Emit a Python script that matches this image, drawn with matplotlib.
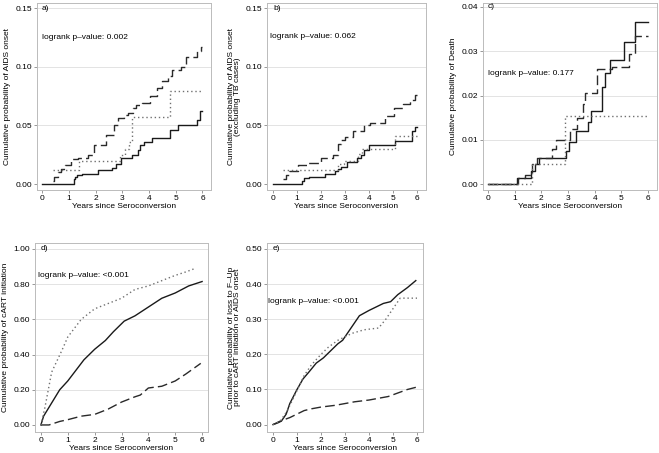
import numpy as np
import matplotlib.pyplot as plt

plt.rcParams['font.family'] = ['Liberation Sans', 'DejaVu Sans']
plt.rcParams['font.size'] = 6.0

# ---- data ----
# a) AIDS onset
a_solid_t = [0, 1.19, 1.22, 1.3, 1.5, 2.1, 2.6, 2.75, 2.95, 3.38, 3.6, 3.68, 3.8, 4.1, 4.8, 5.1, 5.8, 5.9, 6.0]
a_solid_y = [0, 0.004, 0.006, 0.008, 0.009, 0.012, 0.014, 0.017, 0.022, 0.025, 0.029, 0.033, 0.036, 0.039, 0.046, 0.050, 0.055, 0.062, 0.062]
a_dash_t = [0.4, 0.45, 0.6, 0.7, 0.85, 1.1, 1.35, 1.7, 1.95, 2.4, 2.7, 2.85, 3.07, 3.2, 3.4, 3.5, 3.75, 4.05, 4.3, 4.5, 4.7, 4.86, 5.2, 5.4, 5.8, 5.95, 6.0]
a_dash_y = [0.003, 0.006, 0.010, 0.013, 0.016, 0.021, 0.022, 0.025, 0.033, 0.042, 0.050, 0.056, 0.059, 0.061, 0.065, 0.067, 0.069, 0.075, 0.082, 0.088, 0.092, 0.097, 0.100, 0.108, 0.113, 0.117, 0.117]
a_dot_t = [0.4, 1.4, 2.9, 3.1, 3.25, 3.35, 4.78, 6.0]
a_dot_y = [0.012, 0.020, 0.025, 0.030, 0.036, 0.057, 0.079, 0.079]

# b) AIDS onset excluding TB
b_solid_t = [0, 1.2, 1.3, 1.5, 2.15, 2.6, 2.7, 2.85, 3.1, 3.5, 3.65, 3.8, 4.0, 5.07, 5.8, 5.9, 6.0]
b_solid_y = [0, 0.003, 0.005, 0.006, 0.009, 0.011, 0.013, 0.015, 0.019, 0.022, 0.025, 0.029, 0.033, 0.037, 0.045, 0.049, 0.049]
b_dash_t = [0.4, 0.55, 0.65, 1.05, 1.45, 2.0, 2.5, 2.7, 2.85, 3.0, 3.35, 3.8, 4.05, 4.65, 5.05, 5.4, 5.7, 5.9, 6.0]
b_dash_y = [0.004, 0.008, 0.011, 0.016, 0.018, 0.022, 0.025, 0.034, 0.038, 0.040, 0.045, 0.050, 0.052, 0.058, 0.065, 0.068, 0.072, 0.076, 0.076]
b_dot_t = [0.4, 2.7, 2.95, 3.55, 3.7, 5.07, 6.0]
b_dot_y = [0.012, 0.017, 0.020, 0.026, 0.030, 0.041, 0.041]

# c) Death
c_solid_t = [0, 1.1, 1.6, 1.75, 1.9, 2.94, 3.05, 3.3, 3.75, 3.87, 4.29, 4.38, 4.56, 5.09, 5.5, 6.0]
c_solid_y = [0, 0.0015, 0.003, 0.0045, 0.006, 0.0075, 0.0095, 0.012, 0.014, 0.0165, 0.022, 0.025, 0.028, 0.032, 0.0365, 0.0365]
c_dash_t = [0, 1.13, 1.4, 1.65, 1.85, 2.4, 2.55, 3.06, 3.35, 3.55, 3.65, 4.1, 4.65, 5.3, 5.5, 6.0]
c_dash_y = [0, 0.0015, 0.002, 0.0045, 0.006, 0.008, 0.010, 0.0125, 0.015, 0.018, 0.0205, 0.026, 0.0265, 0.0295, 0.0335, 0.0335]
c_dot_t = [0, 1.65, 2.87, 6.0]
c_dot_y = [0, 0.0045, 0.0155, 0.0155]

# d) cART initiation
d_solid_t = [0, 0.1, 0.3, 0.7, 1.0, 1.3, 1.6, 2.0, 2.4, 2.7, 3.1, 3.5, 4.0, 4.5, 5.0, 5.5, 5.9, 6.0]
d_solid_y = [0, 0.05, 0.10, 0.20, 0.25, 0.31, 0.37, 0.43, 0.48, 0.53, 0.59, 0.62, 0.67, 0.72, 0.75, 0.79, 0.81, 0.815]
d_dot_t = [0, 0.15, 0.4, 0.8, 1.0, 1.5, 2.0, 2.5, 3.0, 3.5, 4.0, 4.5, 5.0, 5.4, 5.75]
d_dot_y = [0, 0.10, 0.30, 0.43, 0.50, 0.60, 0.66, 0.69, 0.72, 0.77, 0.79, 0.82, 0.85, 0.87, 0.89]
d_dash_t = [0, 0.3, 0.7, 1.0, 1.5, 2.0, 2.5, 3.0, 3.5, 3.7, 4.0, 4.5, 5.0, 5.4, 5.95]
d_dash_y = [0, 0, 0.02, 0.03, 0.05, 0.06, 0.09, 0.13, 0.16, 0.17, 0.21, 0.22, 0.25, 0.29, 0.35]

# e) loss to follow-up
e_solid_t = [0, 0.2, 0.35, 0.55, 0.7, 1.0, 1.25, 1.5, 1.8, 2.1, 2.4, 2.7, 2.9, 3.2, 3.4, 3.6, 4.0, 4.3, 4.6, 4.9, 5.2, 5.6, 5.95]
e_solid_y = [0, 0.005, 0.01, 0.03, 0.06, 0.10, 0.13, 0.15, 0.175, 0.19, 0.21, 0.23, 0.24, 0.27, 0.29, 0.31, 0.325, 0.335, 0.345, 0.35, 0.37, 0.39, 0.41]
e_dot_t = [0, 0.3, 0.6, 0.95, 1.3, 1.6, 2.0, 2.3, 2.7, 3.0, 3.3, 3.8, 4.4, 4.7, 5.0, 5.3, 6.0]
e_dot_y = [0, 0.01, 0.04, 0.09, 0.14, 0.17, 0.20, 0.22, 0.24, 0.25, 0.26, 0.27, 0.275, 0.30, 0.33, 0.36, 0.36]
e_dash_t = [0, 0.3, 0.7, 1.0, 1.3, 1.6, 2.0, 2.6, 3.0, 3.4, 4.0, 4.4, 4.8, 5.2, 5.6, 6.0]
e_dash_y = [0, 0.01, 0.02, 0.03, 0.04, 0.045, 0.05, 0.055, 0.06, 0.065, 0.07, 0.075, 0.08, 0.09, 0.10, 0.107]

xticks = [0, 1, 2, 3, 4, 5, 6]
xlabel = 'Years since Seroconversion'

panels = [
    # px = frame in pixels (left, top, right, bottom)
    dict(px=(37, 3, 211, 190), xlim=(-0.19, 6.32), ylim=(-0.0050, 0.1543),
         yticks=[0, 0.05, 0.10, 0.15], ylabel='Cumulative probability of AIDS onset',
         tag='a)', tagpos=(0.0, 0.150), pval='logrank p\u2013value: 0.002', ppos=(0.0, 0.125),
         lines=[(a_solid_t, a_solid_y), (a_dash_t, a_dash_y), (a_dot_t, a_dot_y)], steps=True),
    dict(px=(267, 3, 426, 190), xlim=(-0.25, 6.37), ylim=(-0.0050, 0.1543),
         yticks=[0, 0.05, 0.10, 0.15], ylabel='Cumulative probability of AIDS onset\n(excluding TB cases)',
         tag='b)', tagpos=(0.0, 0.150), pval='logrank p\u2013value: 0.062', ppos=(-0.14, 0.1255),
         lines=[(b_solid_t, b_solid_y), (b_dash_t, b_dash_y), (b_dot_t, b_dot_y)], steps=True),
    dict(px=(483, 3, 657, 190), xlim=(-0.19, 6.34), ylim=(-0.0013, 0.0409),
         yticks=[0, 0.01, 0.02, 0.03, 0.04], ylabel='Cumulative probability of Death',
         tag='c)', tagpos=(0.0, 0.040), pval='logrank p\u2013value: 0.177', ppos=(0.0, 0.025),
         lines=[(c_solid_t, c_solid_y), (c_dash_t, c_dash_y), (c_dot_t, c_dot_y)], steps=True),
    dict(px=(35, 243, 208, 432), xlim=(-0.22, 6.22), ylim=(-0.04, 1.034),
         yticks=[0, 0.2, 0.4, 0.6, 0.8, 1.0], ylabel='Cumulative probability of cART initiation',
         tag='d)', tagpos=(0.0, 1.0), pval='logrank p\u2013value: <0.001', ppos=(-0.09, 0.85),
         lines=[(d_solid_t, d_solid_y), (d_dash_t, d_dash_y), (d_dot_t, d_dot_y)], steps=False),
    dict(px=(267, 243, 423, 432), xlim=(-0.25, 6.25), ylim=(-0.021, 0.517),
         yticks=[0, 0.1, 0.2, 0.3, 0.4, 0.5],
         ylabel='Cumulative probability of loss to F\u2013Up\nprior to cART initiation or AIDS onset',
         tag='e)', tagpos=(0.0, 0.5), pval='logrank p\u2013value: <0.001', ppos=(-0.2, 0.35),
         lines=[(e_solid_t, e_solid_y), (e_dash_t, e_dash_y), (e_dot_t, e_dot_y)], steps=False),
]

W, H = 659, 453
fig = plt.figure(figsize=(W / 100, H / 100), dpi=100)

styles = [dict(color='#1a1a1a', lw=1.0, ls='-'),
          dict(color='#2a2a2a', lw=1.0, ls=(0, (7, 3))),
          dict(color='#707070', lw=1.0, ls=(0, (1, 2)))]

for p in panels:
    l, t, r, b = p['px']
    ax = fig.add_axes([l / W, 1 - b / H, (r - l) / W, (b - t) / H])
    ax.set_xlim(p['xlim'])
    ax.set_ylim(p['ylim'])
    for yt in p['yticks'][1:]:
        ax.axhline(yt, color='#e3e3e3', lw=0.7, zorder=0)
    for (tt, yy), st in zip(p['lines'], styles):
        ax.plot(tt, yy, drawstyle='steps-post' if p['steps'] else 'default', **st)
    ax.set_xticks(xticks)
    ax.set_yticks(p['yticks'])
    ax.set_yticklabels(['%.2f' % v for v in p['yticks']])
    ax.tick_params(direction='out', length=2.5, width=0.6, color='#888888', pad=1.2, labelsize=6.0)
    for s in ax.spines.values():
        s.set_color('#bbbbbb')
        s.set_linewidth(0.7)
    ax.set_xlabel(xlabel, labelpad=0.5)
    ax.set_ylabel(p['ylabel'], labelpad=3, linespacing=0.9)
    ax.text(p['tagpos'][0], p['tagpos'][1], p['tag'], va='center', ha='left')
    ax.text(p['ppos'][0], p['ppos'][1], p['pval'], va='center', ha='left')

fig.savefig('out.png', dpi=100)
